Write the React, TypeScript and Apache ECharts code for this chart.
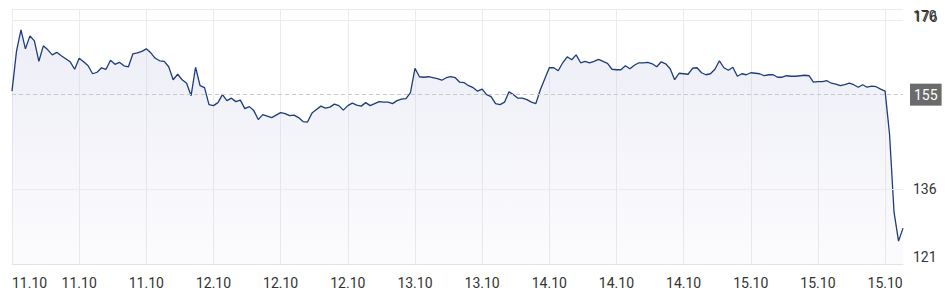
import React, { useEffect, useRef } from "react";
import * as echarts from "echarts";

const dayLabels = ["11.10", "12.10", "13.10", "14.10", "15.10"];
const dayCounts = [40, 49, 29, 37, 45];

const prices = [
  155.7, 163.7, 168.0, 164.2, 166.8, 165.8, 161.7, 164.8, 164.0, 163.0,
  163.5, 162.8, 162.2, 161.6, 160.1, 162.3, 161.6, 160.8, 159.2, 159.5,
  160.4, 160.1, 161.9, 161.1, 161.5, 160.8, 160.6, 163.2, 163.4, 163.7,
  164.2, 163.4, 162.3, 161.8, 161.7, 160.6, 158.0, 159.1, 158.0, 157.3,
  154.8, 160.5, 156.8, 156.4, 153.0, 152.8, 153.4, 155.0, 153.8, 154.3,
  153.6, 153.9, 152.2, 152.6, 151.8, 150.0, 151.0, 150.7, 150.4, 150.9,
  151.4, 151.2, 150.8, 150.9, 150.4, 149.6, 149.5, 151.3, 152.0, 152.7,
  152.3, 152.5, 153.1, 152.8, 151.9, 152.8, 153.3, 152.9, 152.7, 153.4,
  152.8, 153.2, 153.6, 153.5, 153.5, 153.2, 153.8, 154.1, 154.2, 155.4,
  160.3, 158.6, 158.5, 158.6, 158.4, 158.2, 157.9, 158.4, 158.6, 158.4,
  157.5, 157.4, 156.8, 156.4, 155.7, 156.1, 155.0, 154.6, 153.2, 153.0,
  153.5, 155.6, 155.0, 154.3, 154.3, 154.0, 153.5, 153.2, 156.0, 158.2,
  160.4, 160.4, 159.8, 161.4, 162.6, 162.0, 163.0, 161.4, 161.7, 161.4,
  161.7, 162.1, 161.7, 161.3, 160.1, 160.0, 160.0, 160.8, 160.2, 160.9,
  161.4, 161.4, 161.5, 161.2, 160.6, 161.6, 161.2, 160.2, 158.0, 159.3,
  159.2, 159.1, 160.3, 160.4, 159.4, 159.0, 159.2, 160.1, 161.8, 160.4,
  159.9, 160.5, 158.7, 159.2, 159.0, 159.4, 159.3, 159.2, 158.8, 159.0,
  159.0, 158.5, 158.5, 158.8, 158.7, 158.7, 158.8, 158.9, 158.8, 157.5,
  157.6, 157.6, 157.8, 157.3, 157.1, 156.8, 157.0, 157.3, 157.0, 156.5,
  157.0, 156.5, 156.7, 156.6, 156.1, 155.7, 147.0, 131.4, 125.6, 128.2,
];

const previousClose = 155;
const yMin = 121;
const yMax = 172.2;
const yTickLabels = [121, 136, 170];
const gridLineValues = [136, 170];
const topLabel = "176";

const categories: string[] = [];
dayLabels.forEach((d, i) => {
  for (let k = 0; k < dayCounts[i]; k++) categories.push(d);
});

const FONT = "Roboto";
const TEXT = "#333333";
const GRID = "#ebebeb";

export default function App() {
  const ref = useRef<HTMLDivElement>(null);
  useEffect(() => {
    if (!ref.current) return;
    const chart = echarts.init(ref.current, undefined, { renderer: "svg" });
    const markData: any[] = [
      ...gridLineValues.map((v) => ({
        yAxis: v,
        lineStyle: { color: GRID, type: "solid", width: 1 },
        label: { show: false },
      })),
      {
        yAxis: yMax,
        lineStyle: { color: GRID, type: "solid", width: 1 },
        label: {
          show: true,
          position: "end",
          distance: 11,
          formatter: "{t|" + topLabel + "}",
          rich: {
            t: { padding: [15, 0, 0, 0], fontSize: 14, fontFamily: FONT, color: TEXT },
          },
        },
      },
      {
        yAxis: previousClose,
        lineStyle: { color: "#c9c9c9", type: [4, 3], width: 1 },
        label: {
          show: true,
          position: "end",
          distance: 7,
          formatter: String(previousClose),
          backgroundColor: "#6b6b6b",
          color: "#ffffff",
          padding: [4, 4, 4, 4],
          fontSize: 14,
          lineHeight: 14,
          fontFamily: FONT,
        },
      },
    ];
    chart.setOption({
      animation: false,
      grid: { left: 12, right: 45, top: 9, bottom: 32, containLabel: false },
      xAxis: {
        type: "category",
        data: categories,
        boundaryGap: false,
        axisLine: { show: true, lineStyle: { color: "#e2e2e2" } },
        axisTick: { show: false },
        axisLabel: {
          interval: 14,
          margin: 12,
          fontSize: 14,
          fontFamily: FONT,
          color: TEXT,
          alignMinLabel: "left",
        },
        splitLine: { show: true, interval: 14, lineStyle: { color: GRID } },
      },
      yAxis: {
        type: "value",
        position: "right",
        min: yMin,
        max: yMax,
        interval: 1,
        axisLine: { show: false },
        axisTick: { show: false },
        splitLine: { show: false },
        axisLabel: {
          margin: 10,
          fontSize: 14,
          fontFamily: FONT,
          color: TEXT,
          formatter: (v: number) => {
            if (!yTickLabels.includes(v)) return "";
            if (v === yMin) return "{b|" + v + "}";
            if (v === 170) return "{c|" + v + "}";
            return String(v);
          },
          rich: {
            b: { padding: [0, 0, 14, 0], fontSize: 14, fontFamily: FONT, color: TEXT },
            c: { padding: [0, 0, 7, 0], fontSize: 14, fontFamily: FONT, color: TEXT },
          },
        },
      },
      series: [
        {
          type: "line",
          data: prices,
          showSymbol: false,
          symbol: "none",
          lineStyle: { color: "#1d3c7a", width: 1.3 },
          itemStyle: { color: "#1d3c7a" },
          areaStyle: {
            color: new echarts.graphic.LinearGradient(0, 0, 0, 1, [
              { offset: 0, color: "rgba(196,198,228,0.45)" },
              { offset: 1, color: "rgba(210,212,235,0.12)" },
            ]),
          },
          markLine: {
            silent: true,
            symbol: ["none", "none"],
            data: markData,
          },
        },
      ],
    });
    return () => chart.dispose();
  }, []);
  return (
    <div
      ref={ref}
      style={{ position: "fixed", left: 0, top: 0, width: 948, height: 296, background: "#ffffff" }}
    />
  );
}
